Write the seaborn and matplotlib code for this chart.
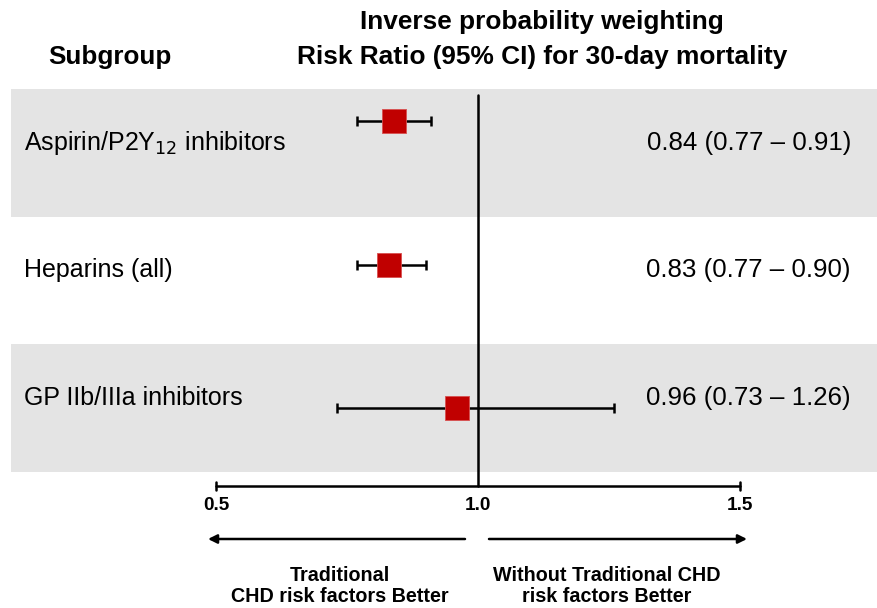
import matplotlib
matplotlib.use("Agg")
import matplotlib.pyplot as plt
import seaborn as sns
import pandas as pd

# Forest plot data
subgroups = ["Aspirin/P2Y$_{12}$ inhibitors", "Heparins (all)", "GP IIb/IIIa inhibitors"]
risk_ratio = [0.84, 0.83, 0.96]
ci_low = [0.77, 0.77, 0.73]
ci_high = [0.91, 0.90, 1.26]
tick_values = [0.5, 1.0, 1.5]
tick_labels = ["0.5", "1.0", "1.5"]

df = pd.DataFrame({"subgroup": subgroups, "rr": risk_ratio, "lo": ci_low, "hi": ci_high})

sns.set_theme(style="white")
plt.rcParams["font.family"] = ["Liberation Sans", "DejaVu Sans"]
plt.rcParams["text.color"] = "black"

W, H = 877, 608
fig = plt.figure(figsize=(W / 100, H / 100), dpi=100)
ax = fig.add_axes([0, 0, 1, 1])

# x in risk-ratio units, y in a row layout measured from the top
px_per_unit = 524.0
x_ref_px = 478.0
def xr(px):
    return 1.0 + (px - x_ref_px) / px_per_unit

ax.set_xlim(xr(0), xr(W))
ax.set_ylim(H, 0)
ax.axis("off")

band_top = 89.0
band_h = 127.6
marker_y0, marker_dy = 121.0, 143.5
label_y0, label_dy = 143.0, 127.5

# shaded row bands
for i in range(3):
    if i % 2 == 0:
        ax.axvspan(xr(11), xr(W), ymin=1 - (band_top + band_h * (i + 1)) / H,
                   ymax=1 - (band_top + band_h * i) / H, color="#e4e4e4", lw=0, zorder=0)

df["ypos"] = [marker_y0 + marker_dy * i for i in range(len(df))]

# reference line at 1.0
ax.plot([1.0, 1.0], [95, 486], color="black", lw=1.8, zorder=2)

# confidence intervals
ax.errorbar(df["rr"], df["ypos"], xerr=[df["rr"] - df["lo"], df["hi"] - df["rr"]],
            fmt="none", ecolor="black", elinewidth=1.8, capsize=3.5, capthick=1.8, zorder=3)

# point estimates
sns.scatterplot(data=df, x="rr", y="ypos", marker="s", s=290, color="#c00000",
                edgecolor="#d85050", linewidth=0.6, ax=ax, zorder=4, legend=False)

# row labels and estimates
for i, row in df.iterrows():
    ly = label_y0 + label_dy * i
    ax.text(xr(24), ly, row["subgroup"], fontsize=18, ha="left", va="center")
    ax.text(xr(851), ly, f"{row['rr']:.2f} ({row['lo']:.2f} \u2013 {row['hi']:.2f})",
            fontsize=18.6, ha="right", va="center")

# headers
ax.text(xr(110), 57, "Subgroup", fontsize=18.7, fontweight="bold", ha="center", va="center")
ax.text(xr(542), 22, "Inverse probability weighting", fontsize=18.9, fontweight="bold",
        ha="center", va="center")
ax.text(xr(542), 57, "Risk Ratio (95% CI) for 30-day mortality", fontsize=18.9,
        fontweight="bold", ha="center", va="center")

# custom x axis
axis_y = 486
ax.plot([tick_values[0], tick_values[-1]], [axis_y, axis_y], color="black", lw=1.8, zorder=2)
for v, lab in zip(tick_values, tick_labels):
    if v != 1.0:
        ax.plot([v, v], [axis_y - 4, axis_y + 4], color="black", lw=1.8, zorder=2)
    ax.text(v, 505, lab, fontsize=13.7, fontweight="bold", ha="center", va="center")

# direction arrows
arrow_y = 539
ax.annotate("", xy=(xr(208), arrow_y), xytext=(xr(465), arrow_y),
            arrowprops=dict(arrowstyle="-|>", color="black", lw=1.8,
                            mutation_scale=13, shrinkA=0, shrinkB=0))
ax.annotate("", xy=(xr(747), arrow_y), xytext=(xr(489), arrow_y),
            arrowprops=dict(arrowstyle="-|>", color="black", lw=1.8,
                            mutation_scale=13, shrinkA=0, shrinkB=0))

ax.text(xr(340), 586, "Traditional\nCHD risk factors Better", fontsize=14.2,
        fontweight="bold", ha="center", va="center", linespacing=1.15)
ax.text(xr(607), 586, "Without Traditional CHD\nrisk factors Better", fontsize=14.2,
        fontweight="bold", ha="center", va="center", linespacing=1.15)

fig.savefig("out.png", dpi=100)
